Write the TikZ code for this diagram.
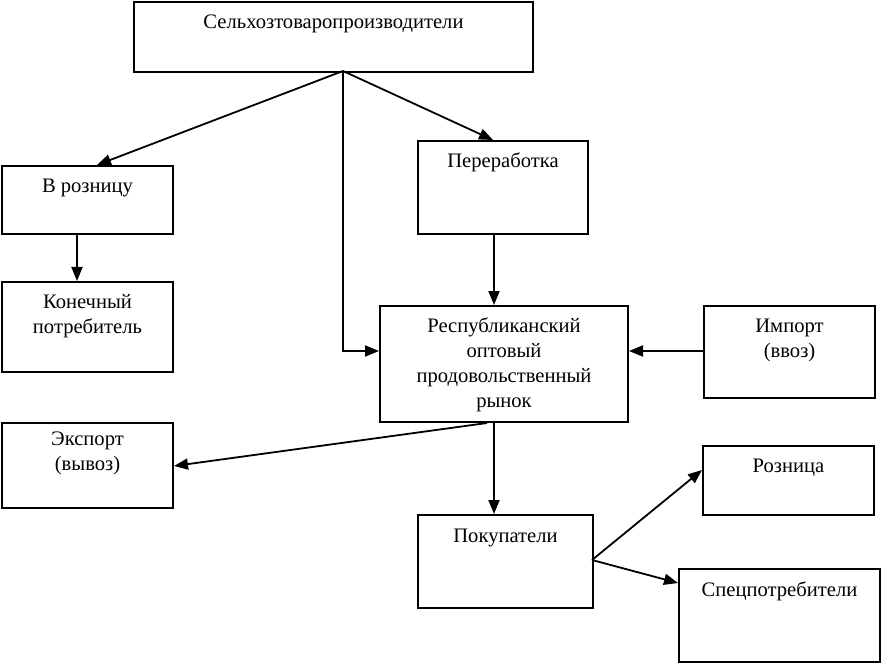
\documentclass[tikz,border=0pt]{standalone}
\usepackage{fontspec}
\setmainfont{Liberation Serif}
\usetikzlibrary{arrows.meta}
\begin{document}
\begin{tikzpicture}[x=1pt,y=-1pt,
  box/.style={draw,line width=2pt,inner sep=0pt,anchor=north west},
  txt/.style={anchor=base,align=center,inner sep=0pt,font=\fontsize{20.6}{25}\selectfont},
  arr/.style={line width=1.8pt,-{Triangle[length=14pt,width=11pt]}}]
\useasboundingbox (0,0) rectangle (881,663);
\newcommand{\bx}[5]{\node[box,minimum width=#4-#2,minimum height=#5-#3] (#1) at (#2,#3) {};}
\bx{top}{133}{1}{532}{71}
\bx{vroz}{1}{165}{172}{233}
\bx{kon}{1}{281}{172}{371}
\bx{per}{417}{140}{587}{233}
\bx{rep}{379}{305}{627}{421}
\bx{imp}{703}{305}{874}{397}
\bx{exp}{1}{422}{172}{507}
\bx{pok}{417}{514}{592}{607}
\bx{roz}{702}{445}{873}{514}
\bx{spec}{678}{568}{879}{661}
\node[txt] (topT) at ([yshift=-28pt]top.north) {Сельхозтоваропроизводители};
\node[txt] (vrozT) at ([yshift=-28pt]vroz.north) {В розницу};
\node[txt] (konT) at ([yshift=-52pt]kon.north) {Конечный\\потребитель};
\node[txt] (perT) at ([yshift=-28pt]per.north) {Переработка};
\node[txt] (repT) at ([yshift=-102pt]rep.north) {Республиканский\\оптовый\\продовольственный\\рынок};
\node[txt] (impT) at ([yshift=-52pt]imp.north) {Импорт\\(ввоз)};
\node[txt] (expT) at ([yshift=-48pt]exp.north) {Экспорт\\(вывоз)};
\node[txt] (pokT) at ([yshift=-28pt]pok.north) {Покупатели};
\node[txt] (rozT) at ([yshift=-27pt]roz.north) {Розница};
\node[txt] (specT) at ([yshift=-28pt]spec.north) {Спецпотребители};
\coordinate (src) at (343,71);
\draw[arr] (src) -- (97,165);
\draw[arr] (src) -- (493,140);
\draw[arr] (src) |- (rep.west |- 0,351);
\draw[arr] (vroz.south -| 77,0) -- (kon.north -| 77,0);
\draw[arr] (per.south -| 494,0) -- (rep.north -| 494,0);
\draw[arr] (imp.west |- 0,351) -- (rep.east |- 0,351);
\draw[arr] (rep.south -| 494,0) -- (pok.north -| 494,0);
\draw[arr] (rep.south -| 487,0) -- (exp.east |- 0,466);
\coordinate (pk) at (592,560);
\draw[arr] (pk) -- (roz.west |- 0,470);
\draw[arr] (pk) -- (spec.west |- 0,583);
\end{tikzpicture}
\end{document}
